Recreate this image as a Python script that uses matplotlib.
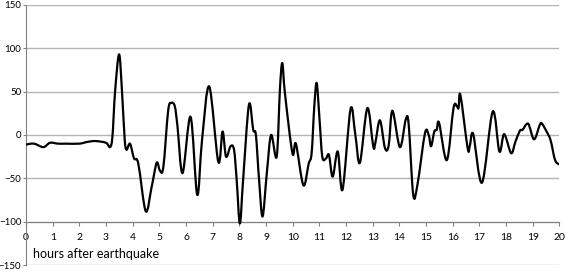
import numpy as np
import matplotlib
matplotlib.use("Agg")
import matplotlib.pyplot as plt
from matplotlib.path import Path
from matplotlib.patches import PathPatch

# values (hours after quake, signal)
hours = [0, 0.3, 0.65, 0.9, 1.2, 1.5, 2.0, 2.3, 2.6, 3.0, 3.15, 3.24, 3.34, 3.49,
         3.6, 3.7, 3.77, 3.9, 4.05, 4.21, 4.49, 4.71, 4.9, 5.02, 5.15, 5.33, 5.45,
         5.58, 5.68, 5.87, 6.17, 6.42, 6.6, 6.87, 7.21, 7.37, 7.5, 7.67, 7.8, 7.9,
         8.02, 8.14, 8.36, 8.52, 8.62, 8.74, 8.87, 9.03, 9.19, 9.4, 9.52, 9.61,
         9.71, 9.99, 10.12, 10.4, 10.6, 10.71, 10.81, 10.9, 11.0, 11.11, 11.25,
         11.36, 11.5, 11.69, 11.87, 12.17, 12.35, 12.52, 12.8, 13.02, 13.1, 13.27,
         13.46, 13.6, 13.74, 14.02, 14.24, 14.35, 14.52, 14.68, 14.96, 15.1, 15.19,
         15.31, 15.4, 15.49, 15.78, 16.03, 16.16, 16.22, 16.29, 16.56, 16.64, 16.77,
         17.1, 17.5, 17.75, 17.93, 18.19, 18.35, 18.52, 18.62, 18.83, 19.05, 19.27,
         19.35, 19.52, 19.67, 19.84, 20.0]
signal = [-11, -10, -14, -9, -10, -10, -10, -8, -7, -9, -14, -2, 50, 93,
          50, -5, -17, -10, -27, -33, -88, -60, -32, -41, -37, 28, 37,
          33, 10, -44, 21, -69, -6, 56, -31, 4, -25, -13, -17, -52,
          -102, -52, 35, 6, 0, -52, -94, -44, 0, -25, 52, 83,
          48, -21, -10, -58, -33, -21, 33, 60, 21, -25, -27,
          -23, -48, -19, -63, 30, 0, -32, 31, -13, -9, 17,
          -15, -12, 28, -14, 18, 12, -69, -57, 2, 0, -13,
          4, 6, 14, -29, 31, 33, 31, 46, -15, -13, 1,
          -55, 27, -19, 1, -21, -8, 5, 6, 13, -5, 12,
          13, 4, -6, -29, -34]

xticks = list(range(0, 21))
yticks = [-150, -100, -50, 0, 50, 100, 150]

fig = plt.figure(figsize=(5.68, 2.72), dpi=100)
ax = fig.add_axes([0.0458, 0.0257, 0.939, 0.956])
ax.set_xlim(0, 20)
ax.set_ylim(-150, 150)

for y in yticks:
    ax.axhline(y, color="#b4b4b4", lw=1.0, zorder=1)

# smoothed line (Excel style bezier through the points)
x = np.array(hours, dtype=float)
y = np.array(signal, dtype=float)
verts = [(x[0], y[0])]
codes = [Path.MOVETO]
n = len(x)
for i in range(n - 1):
    p0 = i - 1 if i > 0 else i
    p3 = i + 2 if i + 2 < n else i + 1
    c1 = (x[i] + (x[i + 1] - x[p0]) / 6, y[i] + (y[i + 1] - y[p0]) / 6)
    c2 = (x[i + 1] - (x[p3] - x[i]) / 6, y[i + 1] - (y[p3] - y[i]) / 6)
    verts += [c1, c2, (x[i + 1], y[i + 1])]
    codes += [Path.CURVE4] * 3
ax.add_patch(PathPatch(Path(verts, codes), fill=False, edgecolor="black",
                       lw=1.6, zorder=3, joinstyle="round", capstyle="round"))

for s in ["top", "right"]:
    ax.spines[s].set_visible(False)
ax.spines["left"].set_color("#808080")
ax.spines["bottom"].set_position(("data", -100))
ax.spines["bottom"].set_color("#808080")
ax.spines["left"].set_zorder(2)

ax.set_xticks(xticks)
ax.set_yticks(yticks)
ax.tick_params(axis="x", length=3, color="#808080", labelsize=7.5, pad=5)
ax.tick_params(axis="y", length=2, color="#808080", labelsize=7, pad=1.5)
for lab in ax.get_xticklabels() + ax.get_yticklabels():
    lab.set_family("Lato")

ax.text(0.27, -137, "hours after earthquake", fontsize=9, family="Lato",
        ha="left", va="center")

fig.savefig("out.png", dpi=100)
